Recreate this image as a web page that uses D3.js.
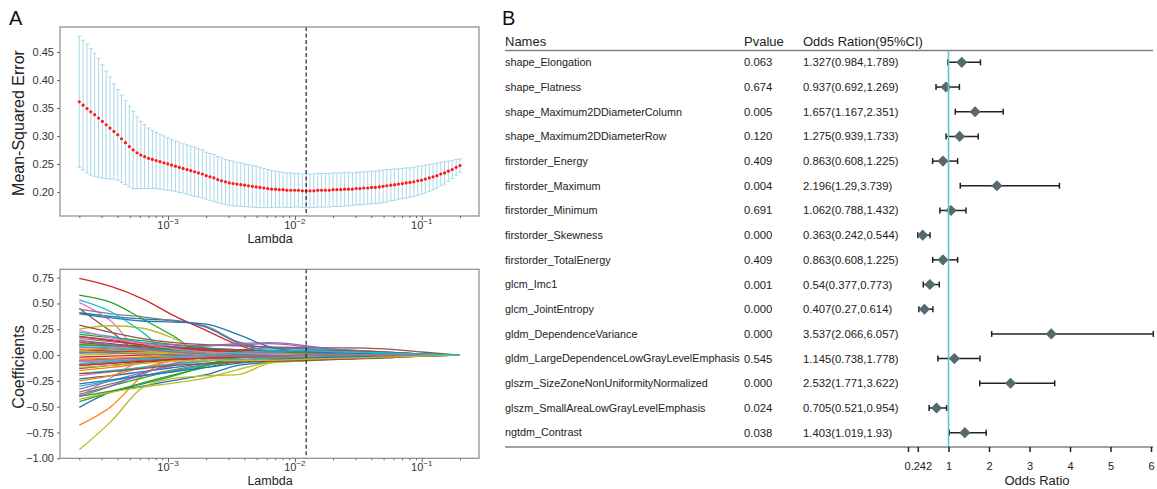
<!DOCTYPE html>
<html>
<head>
<meta charset="utf-8">
<script src="https://cdn.jsdelivr.net/npm/d3@7"></script>
<style>
body { margin: 0; background: #fff; }
svg { font-family: "Liberation Sans", Arial, sans-serif; }
</style>
</head>
<body>
<svg width="1157" height="489"></svg>
<script>
// ---- panel A: LassoCV path (log10 of alpha), mean MSE and std
var lambdaLog10 = [
  -3.699,-3.669,-3.638,-3.608,-3.578,-3.547,-3.517,-3.487,-3.457,-3.426,
  -3.396,-3.366,-3.335,-3.305,-3.275,-3.244,-3.214,-3.184,-3.153,-3.123,
  -3.093,-3.063,-3.032,-3.002,-2.972,-2.941,-2.911,-2.881,-2.850,-2.820,
  -2.790,-2.760,-2.729,-2.699,-2.669,-2.638,-2.608,-2.578,-2.547,-2.517,
  -2.487,-2.457,-2.426,-2.396,-2.366,-2.335,-2.305,-2.275,-2.244,-2.214,
  -2.184,-2.153,-2.123,-2.093,-2.063,-2.032,-2.002,-1.972,-1.941,-1.911,
  -1.881,-1.850,-1.820,-1.790,-1.760,-1.729,-1.699,-1.669,-1.638,-1.608,
  -1.578,-1.547,-1.517,-1.487,-1.457,-1.426,-1.396,-1.366,-1.335,-1.305,
  -1.275,-1.244,-1.214,-1.184,-1.153,-1.123,-1.093,-1.063,-1.032,-1.002,
  -0.972,-0.941,-0.911,-0.881,-0.850,-0.820,-0.790,-0.760,-0.729,-0.699
];
var mseMean = [
  0.361,0.355,0.349,0.343,0.338,0.332,0.326,0.320,0.314,0.308,
  0.302,0.295,0.288,0.281,0.275,0.270,0.266,0.263,0.260,0.258,
  0.256,0.254,0.252,0.250,0.248,0.246,0.244,0.242,0.240,0.238,
  0.236,0.234,0.232,0.229,0.227,0.225,0.222,0.220,0.218,0.216,
  0.215,0.214,0.213,0.212,0.211,0.210,0.209,0.208,0.207,0.206,
  0.205,0.205,0.204,0.204,0.203,0.203,0.203,0.203,0.202,0.202,
  0.202,0.202,0.203,0.203,0.203,0.203,0.204,0.204,0.204,0.205,
  0.205,0.205,0.206,0.206,0.207,0.207,0.208,0.208,0.209,0.210,
  0.211,0.212,0.213,0.214,0.215,0.216,0.217,0.218,0.220,0.221,
  0.223,0.225,0.227,0.229,0.232,0.234,0.237,0.240,0.244,0.247
];
var mseStd = [
  0.117,0.116,0.115,0.113,0.110,0.106,0.101,0.096,0.091,0.085,
  0.081,0.078,0.075,0.072,0.069,0.064,0.060,0.057,0.054,0.052,
  0.050,0.049,0.048,0.047,0.046,0.045,0.045,0.044,0.044,0.044,
  0.044,0.043,0.043,0.042,0.042,0.042,0.041,0.041,0.040,0.040,
  0.040,0.039,0.039,0.038,0.038,0.037,0.037,0.036,0.035,0.034,
  0.033,0.032,0.032,0.031,0.031,0.031,0.030,0.030,0.030,0.030,
  0.030,0.030,0.030,0.030,0.030,0.030,0.030,0.030,0.030,0.030,
  0.030,0.029,0.029,0.029,0.029,0.029,0.029,0.029,0.029,0.029,
  0.029,0.028,0.028,0.027,0.027,0.027,0.026,0.026,0.026,0.025,
  0.025,0.024,0.023,0.022,0.021,0.020,0.018,0.016,0.014,0.012
];
var bestLambdaLog10 = -1.911;
var mseTicks = [0.20, 0.25, 0.30, 0.35, 0.40, 0.45];
var coefTicks = [-1.00, -0.75, -0.50, -0.25, 0.00, 0.25, 0.50, 0.75];
var lambdaMajor = [-3, -2, -1];

// coefficient paths, read at these log10(lambda) knots
var knotLog10 = [-3.699, -3.45, -3.2, -2.95, -2.7, -2.45, -2.2, -1.9, -1.6, -1.3, -1.0, -0.699];
var coefPaths = [
  [0.41, 0.375, 0.35, 0.335, 0.27, 0.12, 0.04, 0.02, 0.01, 0.005, 0.002, 0],
  [-0.678, -0.50, -0.20, -0.03, 0, 0, 0, 0, 0, 0, 0, 0],
  [0.58, 0.51, 0.35, 0.18, 0.0, 0, 0, 0, 0, 0, 0, 0],
  [0.742, 0.665, 0.545, 0.38, 0.24, 0.10, 0.02, 0.01, 0.005, 0, 0, 0],
  [0.08, 0.06, 0.05, 0.06, 0.09, 0.11, 0.12, 0.09, 0.04, 0.02, 0.01, 0],
  [0.452, 0.23, 0.02, 0, 0, 0, 0, 0, 0, 0, 0, 0],
  [0.51, 0.33, 0.03, 0, 0, 0, 0, 0, 0, 0, 0, 0],
  [0.445, 0.40, 0.37, 0.33, 0.28, 0.13, 0.07, 0.06, 0.05, 0.03, 0.01, 0],
  [0.252, 0.284, 0.26, 0.16, 0.02, 0, 0, 0, 0, 0, 0, 0],
  [0.535, 0.42, 0.22, 0, 0, 0, 0, 0, 0, 0, 0, 0],

  [-0.507, -0.36, -0.30, -0.245, -0.19, -0.10, -0.07, -0.04, -0.03, -0.02, -0.01, 0],
  [0.12, 0.10, 0.08, 0.05, 0.03, 0.01, 0, 0, 0, 0, 0, 0],
  [-0.38, -0.30, -0.22, -0.15, -0.10, -0.05, -0.02, 0, 0, 0, 0, 0],
  [0.05, 0.04, 0.03, 0.02, 0.02, 0.03, 0.02, 0.01, 0.01, 0.005, 0, 0],
  [-0.10, -0.08, -0.05, -0.02, 0.02, 0.05, 0.07, 0.06, 0.04, 0.02, 0.01, 0],
  [0.29, 0.22, 0.16, 0.12, 0.10, 0.09, 0.08, 0.07, 0.07, 0.06, 0.03, 0],
  [-0.40, -0.22, -0.05, 0, 0, 0, 0, 0, 0, 0, 0, 0],
  [-0.05, -0.04, -0.02, -0.01, 0.01, 0.02, 0.03, 0.02, 0.01, 0.01, 0, 0],
  [-0.917, -0.645, -0.315, -0.225, -0.20, -0.19, -0.08, -0.055, -0.03, -0.005, 0, 0],
  [0.22, 0.18, 0.12, 0.08, 0.05, 0.04, 0.05, 0.05, 0.04, 0.02, 0.01, 0],

  [-0.23, -0.20, -0.16, -0.12, -0.08, -0.05, -0.04, -0.03, -0.02, -0.01, 0, 0],
  [-0.15, -0.12, -0.08, -0.04, -0.02, 0.01, 0.02, 0.02, 0.01, 0.005, 0, 0],
  [-0.45, -0.36, -0.27, -0.19, -0.12, -0.06, -0.03, -0.02, -0.01, 0, 0, 0],
  [-0.02, -0.01, 0.0, 0.01, 0.03, 0.05, 0.04, 0.03, 0.02, 0.01, 0, 0],
  [-0.33, -0.25, -0.17, -0.10, -0.04, 0.0, 0.02, 0.01, 0, 0, 0, 0],
  [-0.13, -0.10, -0.07, -0.05, -0.03, -0.04, -0.05, -0.04, -0.03, -0.02, -0.01, 0],
  [0.10, 0.08, 0.06, 0.05, 0.04, 0.03, 0.02, 0.02, 0.01, 0.01, 0, 0],
  [0.16, 0.13, 0.10, 0.08, 0.06, 0.04, 0.03, 0.03, 0.03, 0.02, 0.01, 0],
  [-0.43, -0.36, -0.31, -0.27, -0.22, -0.14, -0.07, -0.04, -0.02, -0.01, 0, 0],
  [-0.30, -0.25, -0.20, -0.16, -0.10, -0.05, -0.03, -0.02, -0.01, 0, 0, 0],

  [0.40, 0.36, 0.33, 0.32, 0.30, 0.20, 0.08, 0.03, 0.01, 0, 0, 0],
  [-0.25, -0.20, -0.12, -0.05, 0.02, 0.04, 0.03, 0.02, 0.01, 0, 0, 0],
  [0.20, 0.17, 0.14, 0.10, 0.07, 0.05, 0.03, 0.02, 0.01, 0.01, 0, 0],
  [0.14, 0.11, 0.08, 0.06, 0.04, 0.02, 0.01, 0, 0, 0, 0, 0],
  [0.18, 0.15, 0.12, 0.10, 0.09, 0.10, 0.11, 0.08, 0.05, 0.03, 0.01, 0],
  [-0.06, -0.05, -0.03, -0.02, -0.03, -0.05, -0.06, -0.05, -0.04, -0.03, -0.01, 0],
  [-0.20, -0.16, -0.12, -0.08, -0.05, -0.03, -0.02, -0.01, 0, 0, 0, 0],
  [-0.36, -0.28, -0.20, -0.14, -0.09, -0.06, -0.04, -0.03, -0.02, -0.01, 0, 0],
  [0.04, 0.03, 0.02, 0.02, 0.01, 0.0, -0.01, -0.01, -0.01, 0, 0, 0],
  [-0.18, -0.15, -0.12, -0.09, -0.06, -0.03, 0.02, 0.04, 0.03, 0.02, 0.01, 0],

  [0.02, 0.03, 0.05, 0.06, 0.06, 0.05, 0.04, 0.03, 0.02, 0.01, 0, 0],
  [0.06, 0.05, 0.04, 0.03, 0.02, 0.01, 0.01, 0, 0, 0, 0, 0],
  [-0.40, -0.35, -0.28, -0.20, -0.10, -0.02, 0, 0, 0, 0, 0, 0],
  [0.18, 0.14, 0.10, 0.07, 0.05, 0.03, 0.02, 0.01, 0.01, 0, 0, 0],
  [-0.40, -0.30, -0.18, -0.08, -0.02, 0, 0, 0, 0, 0, 0, 0],
  [0.12, 0.10, 0.09, 0.08, 0.06, 0.05, 0.04, 0.04, 0.04, 0.03, 0.01, 0],
  [-0.06, -0.05, -0.04, -0.03, -0.02, -0.01, 0, 0, 0, 0, 0, 0],
  [-0.09, -0.07, -0.05, -0.04, -0.03, -0.02, -0.02, -0.02, -0.01, -0.01, 0, 0],
  [0.00, 0.01, 0.02, 0.02, 0.01, 0.01, 0, 0, 0, 0, 0, 0],
  [0.08, 0.07, 0.05, 0.04, 0.03, 0.02, 0.02, 0.01, 0.01, 0, 0, 0],

  [-0.28, -0.24, -0.20, -0.16, -0.12, -0.08, -0.05, -0.03, -0.02, -0.01, 0, 0],
  [-0.04, -0.03, -0.02, -0.01, 0.0, 0.01, 0.01, 0.01, 0, 0, 0, 0],
  [0.10, 0.09, 0.07, 0.05, 0.03, 0.01, 0, 0, 0, 0, 0, 0],
  [-0.10, -0.08, -0.06, -0.04, -0.03, -0.02, -0.01, 0, 0, 0, 0, 0],
  [0.14, 0.10, 0.06, 0.03, 0.01, 0, 0, 0, 0, 0, 0, 0],
  [-0.18, -0.16, -0.13, -0.10, -0.08, -0.07, -0.06, -0.05, -0.04, -0.02, -0.01, 0],
  [0.24, 0.17, 0.11, 0.06, 0.03, 0.02, 0.01, 0, 0, 0, 0, 0],
  [0.03, 0.02, 0.01, 0.0, -0.01, -0.01, -0.01, 0, 0, 0, 0, 0],
  [-0.12, -0.10, -0.08, -0.06, -0.05, -0.05, -0.05, -0.04, -0.03, -0.02, -0.01, 0],
  [-0.08, -0.06, -0.04, -0.02, 0.0, 0.02, 0.04, 0.04, 0.03, 0.02, 0.01, 0]
];
var tab10 = ["#1f77b4","#ff7f0e","#2ca02c","#d62728","#9467bd","#8c564b","#e377c2","#7f7f7f","#bcbd22","#17becf"];

// ---- panel B: logistic regression table
var featureNames = [
  "shape_Elongation", "shape_Flatness", "shape_Maximum2DDiameterColumn", "shape_Maximum2DDiameterRow",
  "firstorder_Energy", "firstorder_Maximum", "firstorder_Minimum", "firstorder_Skewness",
  "firstorder_TotalEnergy", "glcm_Imc1", "glcm_JointEntropy", "gldm_DependenceVariance",
  "gldm_LargeDependenceLowGrayLevelEmphasis", "glszm_SizeZoneNonUniformityNormalized",
  "glszm_SmallAreaLowGrayLevelEmphasis", "ngtdm_Contrast"
];
var pValues   = [0.063, 0.674, 0.005, 0.120, 0.409, 0.004, 0.691, 0.000, 0.409, 0.001, 0.000, 0.000, 0.545, 0.000, 0.024, 0.038];
var oddsRatio = [1.327, 0.937, 1.657, 1.275, 0.863, 2.196, 1.062, 0.363, 0.863, 0.54, 0.407, 3.537, 1.145, 2.532, 0.705, 1.403];
var ciLow     = [0.984, 0.692, 1.167, 0.939, 0.608, 1.29, 0.788, 0.242, 0.608, 0.377, 0.27, 2.066, 0.738, 1.771, 0.521, 1.019];
var ciHigh    = [1.789, 1.269, 2.351, 1.733, 1.225, 3.739, 1.432, 0.544, 1.225, 0.773, 0.614, 6.057, 1.778, 3.622, 0.954, 1.93];
var orTicks = [0, 0.242, 1, 2, 3, 4, 5, 6];

var svg = d3.select("svg");

// panel letters
svg.append("text").attr("x", 9).attr("y", 25).attr("font-size", 20).attr("fill", "#111").text("A");
svg.append("text").attr("x", 502).attr("y", 25).attr("font-size", 20).attr("fill", "#111").text("B");

var x = d3.scaleLog()
  .domain([Math.pow(10, -3.851), Math.pow(10, -0.549)])
  .range([60, 479]);
var yMse = d3.scaleLinear().domain([0.157, 0.4946]).range([216, 27]);
var yCoef = d3.scaleLinear().domain([-1.0, 0.831]).range([458.3, 269.3]);

function lambdaAxis(g, bottom) {
  var minor = [];
  [-4, -3, -2, -1].forEach(function(d) {
    d3.range(2, 10).forEach(function(k) {
      var v = k * Math.pow(10, d);
      if (v > x.domain()[0] && v < x.domain()[1]) minor.push(v);
    });
  });
  var major = lambdaMajor.map(function(d) { return Math.pow(10, d); });
  var ga = g.append("g").attr("transform", "translate(0," + bottom + ")");
  ga.call(d3.axisBottom(x).tickValues(minor).tickSize(2).tickFormat(""));
  ga.append("g").call(d3.axisBottom(x).tickValues(major).tickSize(4).tickFormat(""));
  ga.selectAll(".domain").remove();
  ga.selectAll("line").attr("stroke", "#666");
  lambdaMajor.forEach(function(d) {
    var t = ga.append("text")
      .attr("x", x(Math.pow(10, d)))
      .attr("y", 13)
      .attr("text-anchor", "middle")
      .attr("font-size", 11)
      .attr("fill", "#333");
    t.append("tspan").text("10");
    t.append("tspan").attr("dy", -5).attr("font-size", 8).text("\u2212" + (-d));
  });
  g.append("text")
    .attr("x", 270).attr("y", bottom + 27)
    .attr("text-anchor", "middle")
    .attr("font-size", 12.5)
    .attr("fill", "#222")
    .text("Lambda");
}

function frame(g, top, bottom) {
  g.append("rect")
    .attr("x", 60).attr("y", top)
    .attr("width", 419).attr("height", bottom - top)
    .attr("fill", "none").attr("stroke", "#8a8a8a").attr("stroke-width", 1.2);
}

// ---- top panel: CV error
var gTop = svg.append("g");
var bars = gTop.append("g");
lambdaLog10.forEach(function(l, i) {
  var cx = x(Math.pow(10, l));
  var y0 = yMse(mseMean[i] - mseStd[i]);
  var y1 = yMse(mseMean[i] + mseStd[i]);
  bars.append("line").attr("x1", cx).attr("x2", cx).attr("y1", y0).attr("y2", y1);
  bars.append("line").attr("x1", cx - 2).attr("x2", cx + 2).attr("y1", y0).attr("y2", y0);
  bars.append("line").attr("x1", cx - 2).attr("x2", cx + 2).attr("y1", y1).attr("y2", y1);
});
bars.selectAll("line").attr("stroke", "#a9d8e8").attr("stroke-width", 1);

gTop.append("g").selectAll("circle")
  .data(mseMean).enter()
  .append("circle")
  .attr("cx", function(d, i) { return x(Math.pow(10, lambdaLog10[i])); })
  .attr("cy", function(d) { return yMse(d); })
  .attr("r", 1.6)
  .attr("fill", "#ff1a1a");

gTop.append("line")
  .attr("x1", x(Math.pow(10, bestLambdaLog10))).attr("x2", x(Math.pow(10, bestLambdaLog10)))
  .attr("y1", 27).attr("y2", 216)
  .attr("stroke", "#222").attr("stroke-width", 1.2).attr("stroke-dasharray", "4,2.5");

frame(gTop, 27, 216);
var yAxTop = gTop.append("g").attr("transform", "translate(60,0)")
  .call(d3.axisLeft(yMse).tickValues(mseTicks).tickSize(3).tickFormat(d3.format(".2f")));
yAxTop.select(".domain").remove();
lambdaAxis(gTop, 216);
gTop.append("text")
  .attr("transform", "translate(24,123) rotate(-90)")
  .attr("text-anchor", "middle").attr("font-size", 16).attr("fill", "#222")
  .text("Mean-Squared Error");

// ---- bottom panel: coefficient paths
var gBot = svg.append("g");
var line = d3.line()
  .x(function(d, i) { return x(Math.pow(10, knotLog10[i])); })
  .y(function(d) { return yCoef(d); })
  .curve(d3.curveMonotoneX);
gBot.append("g").selectAll("path")
  .data(coefPaths).enter()
  .append("path")
  .attr("d", line)
  .attr("fill", "none")
  .attr("stroke", function(d, i) { return tab10[i % 10]; })
  .attr("stroke-width", 1.3);

gBot.append("line")
  .attr("x1", x(Math.pow(10, bestLambdaLog10))).attr("x2", x(Math.pow(10, bestLambdaLog10)))
  .attr("y1", 269.3).attr("y2", 458.3)
  .attr("stroke", "#222").attr("stroke-width", 1.2).attr("stroke-dasharray", "4,2.5");

frame(gBot, 269.3, 458.3);
var yAxBot = gBot.append("g").attr("transform", "translate(60,0)")
  .call(d3.axisLeft(yCoef).tickValues(coefTicks).tickSize(3).tickFormat(d3.format(".2f")));
yAxBot.select(".domain").remove();
lambdaAxis(gBot, 458.3);
gBot.append("text")
  .attr("transform", "translate(24,367) rotate(-90)")
  .attr("text-anchor", "middle").attr("font-size", 16).attr("fill", "#222")
  .text("Coefficients");

[yAxTop, yAxBot].forEach(function(a) {
  a.selectAll("text").attr("font-size", 11).attr("fill", "#333")
    .attr("font-family", "Liberation Sans, Arial, sans-serif");
  a.selectAll("line").attr("stroke", "#666");
});

// ---- panel B: forest plot
var gB = svg.append("g");
var row = d3.scaleBand().domain(featureNames).range([50, 445]);
var xOR = d3.scaleLinear().domain([0, 6]).range([908, 1151]);
var fmtP = d3.format(".3f");

gB.append("text").attr("x", 505).attr("y", 46).attr("font-size", 13).attr("fill", "#222").text("Names");
gB.append("text").attr("x", 744).attr("y", 46).attr("font-size", 13).attr("fill", "#222").text("Pvalue");
gB.append("text").attr("x", 803).attr("y", 46).attr("font-size", 13).attr("fill", "#222").text("Odds Ration(95%CI)");

gB.append("line").attr("x1", 505).attr("x2", 1153).attr("y1", 50.5).attr("y2", 50.5)
  .attr("stroke", "#808080").attr("stroke-width", 1.5);

var rows = gB.selectAll("g.row")
  .data(featureNames).enter()
  .append("g").attr("class", "row")
  .attr("transform", function(d) { return "translate(0," + (row(d) + row.bandwidth() / 2) + ")"; });

rows.append("text").attr("x", 505).attr("dy", "0.35em")
  .attr("font-size", 10.8).attr("fill", "#222")
  .text(function(d) { return d; });
rows.append("text").attr("x", 744).attr("dy", "0.35em")
  .attr("font-size", 11.3).attr("fill", "#222")
  .text(function(d, i) { return fmtP(pValues[i]); });
rows.append("text").attr("x", 803).attr("dy", "0.35em")
  .attr("font-size", 11.3).attr("fill", "#222")
  .text(function(d, i) { return oddsRatio[i] + "(" + ciLow[i] + "," + ciHigh[i] + ")"; });

// reference line at OR = 1
gB.append("line")
  .attr("x1", xOR(1)).attr("x2", xOR(1)).attr("y1", 50.5).attr("y2", 447)
  .attr("stroke", "#5cc6cf").attr("stroke-width", 1.6);

rows.append("line")
  .attr("x1", function(d, i) { return xOR(ciLow[i]); })
  .attr("x2", function(d, i) { return xOR(ciHigh[i]); })
  .attr("stroke", "#222").attr("stroke-width", 1.5);
rows.append("line")
  .attr("x1", function(d, i) { return xOR(ciLow[i]); })
  .attr("x2", function(d, i) { return xOR(ciLow[i]); })
  .attr("y1", -3).attr("y2", 3)
  .attr("stroke", "#222").attr("stroke-width", 1.5);
rows.append("line")
  .attr("x1", function(d, i) { return xOR(ciHigh[i]); })
  .attr("x2", function(d, i) { return xOR(ciHigh[i]); })
  .attr("y1", -3).attr("y2", 3)
  .attr("stroke", "#222").attr("stroke-width", 1.5);
rows.append("path")
  .attr("d", d3.symbol(d3.symbolSquare, 62))
  .attr("transform", function(d, i) { return "translate(" + xOR(oddsRatio[i]) + ",0) rotate(45)"; })
  .attr("fill", "#55696f");

// bottom rule + axis
gB.append("line").attr("x1", 505).attr("x2", 1153).attr("y1", 447).attr("y2", 447)
  .attr("stroke", "#808080").attr("stroke-width", 1.5);
var orAxis = gB.append("g").attr("transform", "translate(0,447)")
  .call(d3.axisBottom(xOR).tickValues(orTicks).tickSize(5)
    .tickFormat(function(d) { return d === 0 ? "" : String(d); }));
orAxis.select(".domain").remove();
orAxis.selectAll("line").attr("stroke", "#222").attr("stroke-width", 1.5);
orAxis.selectAll("text").attr("font-size", 11).attr("fill", "#222").attr("dy", "1.35em")
  .attr("font-family", "Liberation Sans, Arial, sans-serif");
gB.append("text").attr("x", 1037).attr("y", 485).attr("text-anchor", "middle")
  .attr("font-size", 13).attr("fill", "#222").text("Odds Ratio");
</script>
</body>
</html>
